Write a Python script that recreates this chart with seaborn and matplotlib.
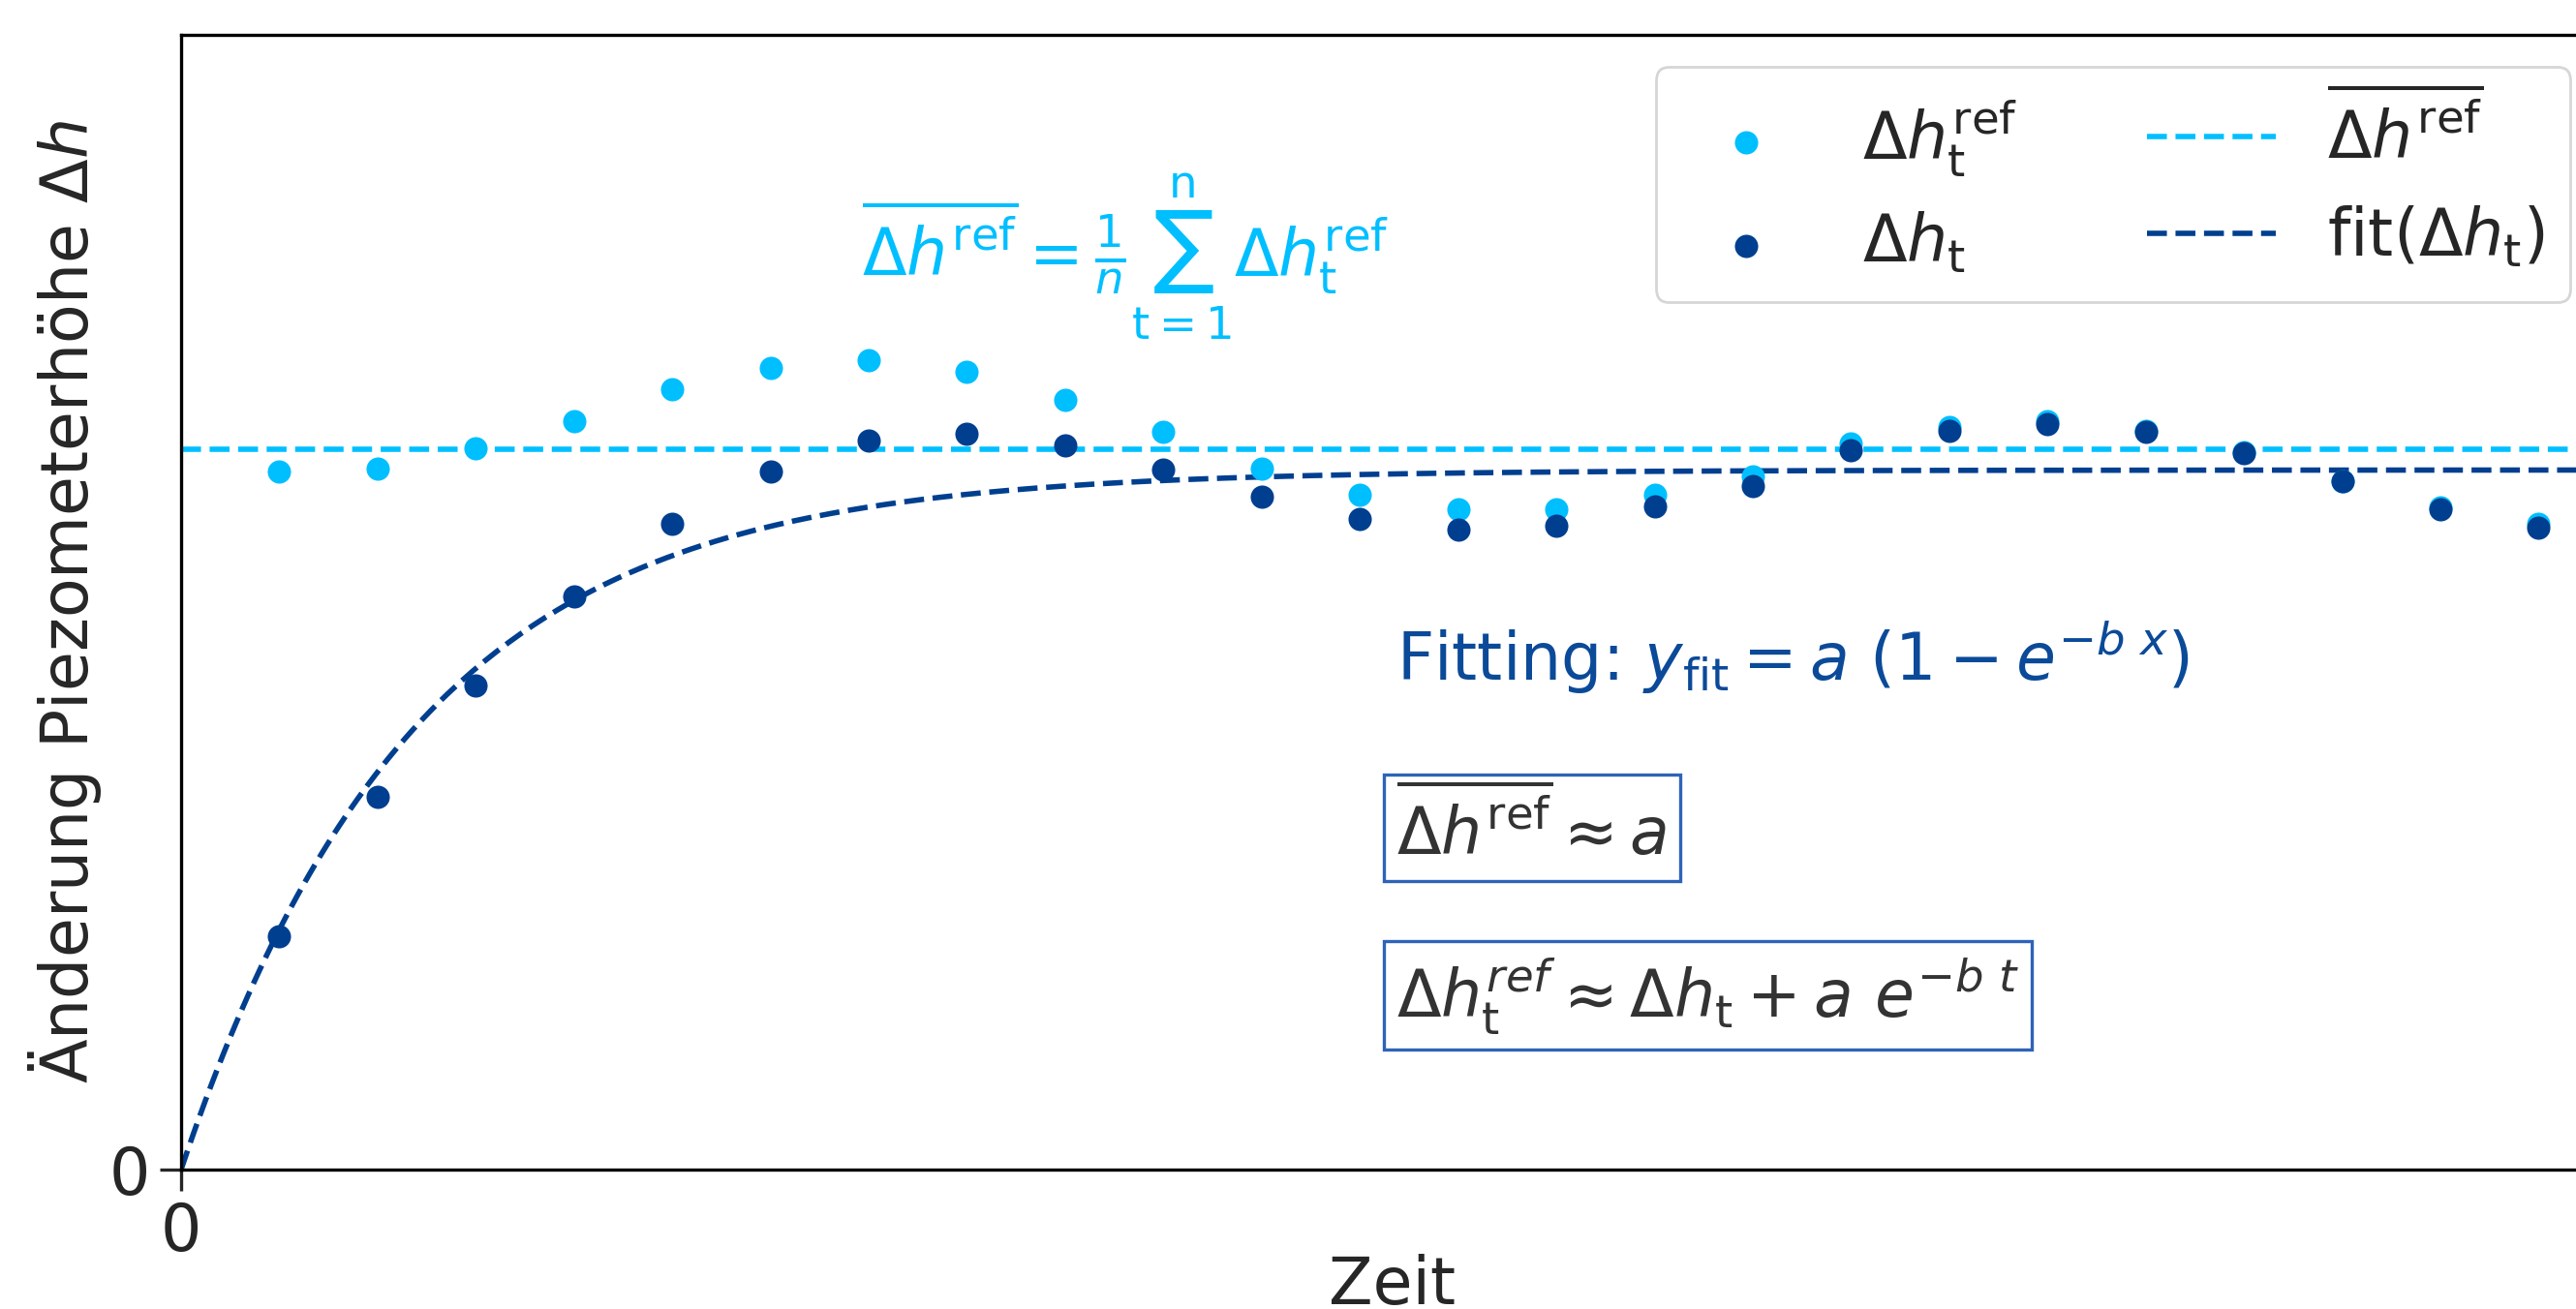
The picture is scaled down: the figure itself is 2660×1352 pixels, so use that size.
import numpy as np
import matplotlib
matplotlib.use("Agg")
import matplotlib.pyplot as plt
import seaborn as sns

# ── Daten ──────────────────────────────────────────────────────────────────
zeit = np.arange(1, 25)

dh_ref = [4.25, 4.27, 4.39, 4.56, 4.75, 4.88, 4.93, 4.86, 4.69, 4.49,
          4.27, 4.11, 4.02, 4.02, 4.11, 4.22, 4.42, 4.52, 4.56, 4.50,
          4.37, 4.19, 4.03, 3.93]

dh_t = [1.42, 2.27, 2.95, 3.49, 3.93, 4.25, 4.44, 4.48, 4.41, 4.26,
        4.10, 3.96, 3.90, 3.92, 4.04, 4.16, 4.38, 4.50, 4.54, 4.49,
        4.36, 4.19, 4.02, 3.91]

FIT_A = 4.26   # Asymptote
FIT_B = 0.42   # Abklingrate

X_MAX = 24.65
Y_MAX = 6.91

HELL = '#00BFFF'
DUNKEL = '#003F8F'
TEXT_DUNKEL = '#0B4A99'
RAHMEN = '#2E63B8'

# ── Stil ───────────────────────────────────────────────────────────────────
sns.set_theme(style='ticks', font_scale=1.0)
plt.rcParams['font.family'] = ['DejaVu Sans']
plt.rcParams['mathtext.fontset'] = 'dejavusans'
FS = 24

fig = plt.figure(figsize=(13.3, 6.76), dpi=200)
ax = fig.add_axes([0.0703, 0.1065, 0.940, 0.8669])

mittel = float(np.mean(dh_ref))
x_fit = np.linspace(0, X_MAX, 400)
y_fit = FIT_A * (1 - np.exp(-FIT_B * x_fit))

# Linien
ax.axhline(mittel, color=HELL, ls='--', lw=2, zorder=1,
           label=r'$\overline{\Delta h^{\rm ref}}$')
sns.lineplot(x=x_fit, y=y_fit, ax=ax, color=DUNKEL, lw=2, zorder=1,
             label=r'fit($\Delta h_{\rm t}$)')
ax.get_lines()[-1].set_linestyle('--')

# Punkte
sns.scatterplot(x=zeit, y=dh_ref, ax=ax, color=HELL, s=75, linewidth=0,
                zorder=3, label=r'$\Delta h_{\rm t}^{\rm ref}$')
sns.scatterplot(x=zeit, y=dh_t, ax=ax, color=DUNKEL, s=75, linewidth=0,
                zorder=4, label=r'$\Delta h_{\rm t}$')

ax.set_xlim(0, X_MAX)
ax.set_ylim(0, Y_MAX)
ax.set_xticks([0])
ax.set_yticks([0])
ax.tick_params(labelsize=FS, length=8, width=1.2)
ax.set_xlabel('Zeit', fontsize=FS, labelpad=-4)
ax.set_ylabel(r'Änderung Piezometerhöhe $\Delta h$', fontsize=FS, labelpad=2)
for s in ax.spines.values():
    s.set_color('black')
    s.set_linewidth(1.2)

# Legende: Spalte 1 Punkte, Spalte 2 Linien
h, l = ax.get_legend_handles_labels()
order = [l.index(r'$\Delta h_{\rm t}^{\rm ref}$'), l.index(r'$\Delta h_{\rm t}$'),
         l.index(r'$\overline{\Delta h^{\rm ref}}$'), l.index(r'fit($\Delta h_{\rm t}$)')]
h[l.index(r'fit($\Delta h_{\rm t}$)')].set_linestyle('--')
ax.legend([h[i] for i in order], [l[i] for i in order], loc='upper right',
          ncol=2, fontsize=FS, frameon=True, fancybox=True)

# Formeln
ax.text(0.281, 0.7875,
        r'$\overline{\Delta h^{\rm ref}} = \frac{1}{n}\sum_{\rm t=1}^{\rm n}\Delta h_{\rm t}^{\rm ref}$',
        transform=ax.transAxes, fontsize=FS, color=HELL, va='baseline')
ax.text(0.502, 0.4307, r'Fitting: $y_{\rm fit} = a\ (1 - e^{-b\ x})$',
        transform=ax.transAxes, fontsize=FS, color=TEXT_DUNKEL, va='baseline')
box = dict(boxstyle='square,pad=0.2', facecolor='white', edgecolor=RAHMEN, lw=1.2)
ax.text(0.502, 0.2773, r'$\overline{\Delta h^{\rm ref}} \approx a$',
        transform=ax.transAxes, fontsize=FS, color='#333333', va='baseline', bbox=box)
ax.text(0.502, 0.1348, r'$\Delta h_{\rm t}^{ref} \approx \Delta h_{\rm t} + a\ e^{-b\ t}$',
        transform=ax.transAxes, fontsize=FS, color='#333333', va='baseline', bbox=box)

fig.savefig('out.png', dpi=200)
